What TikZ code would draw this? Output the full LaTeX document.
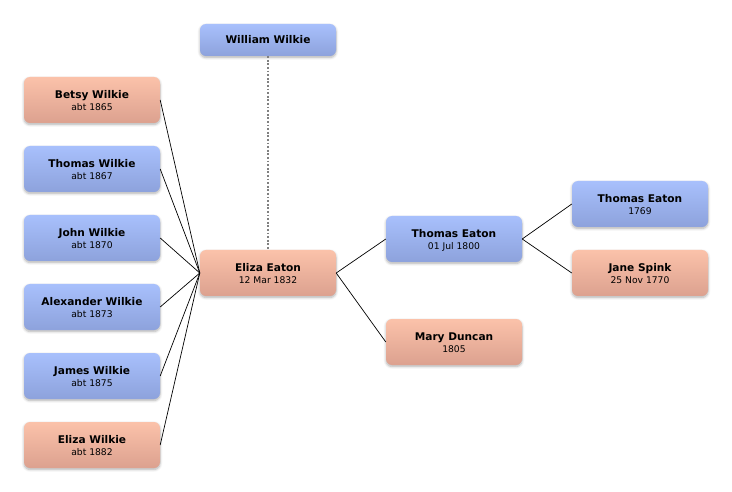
\documentclass[tikz,border=0pt]{standalone}
\usepackage{fontspec}
\setmainfont{DejaVu Sans}
\usetikzlibrary{shadows.blur}
\begin{document}
\begin{tikzpicture}[x=1pt,y=-1pt,
  person/.style={rounded corners=6pt, minimum width=136pt, minimum height=46pt,
    inner sep=0pt, align=center, blur shadow={shadow blur steps=6, shadow xshift=0pt, shadow yshift=-1.5pt, shadow opacity=30, shadow blur radius=2.5pt}},
  male/.style={person, top color=maletop, bottom color=malebot},
  female/.style={person, top color=femtop, bottom color=fembot},
  link/.style={draw=black, line width=0.7pt},
  dotlink/.style={draw=black!50, line width=1.5pt, dash pattern=on 1.8pt off 1.8pt}]
\definecolor{maletop}{HTML}{A8C0FC}
\definecolor{malebot}{HTML}{8DA2DC}
\definecolor{femtop}{HTML}{FBC2AA}
\definecolor{fembot}{HTML}{DCA18F}
\newcommand{\pname}[2]{\raisebox{-2.5pt}[\height][\depth]{\begin{tabular}{@{}c@{}}{\fontsize{10.6}{13}\selectfont\bfseries #1}\\[0pt]{\fontsize{9.2}{11}\selectfont #2}\end{tabular}}}
\useasboundingbox (0,0) rectangle (732,492);
\node[male, minimum height=32pt] (ww) at (268,40) {\fontsize{10.6}{13}\selectfont\bfseries William Wilkie};
\node[female] (bw) at (92,100) {\pname{Betsy Wilkie}{abt 1865}};
\node[male] (tw) at (92,169) {\pname{Thomas Wilkie}{abt 1867}};
\node[male] (jw) at (92,238) {\pname{John Wilkie}{abt 1870}};
\node[male] (aw) at (92,307) {\pname{Alexander Wilkie}{abt 1873}};
\node[male] (jaw) at (92,376) {\pname{James Wilkie}{abt 1875}};
\node[female] (ew) at (92,445) {\pname{Eliza Wilkie}{abt 1882}};
\node[female] (ee) at (268,273) {\pname{Eliza Eaton}{12 Mar 1832}};
\node[male] (te) at (454,239) {\pname{Thomas Eaton}{01 Jul 1800}};
\node[female] (md) at (454,342) {\pname{Mary Duncan}{1805}};
\node[male] (te2) at (640,204) {\pname{Thomas Eaton}{1769}};
\node[female] (js) at (640,273) {\pname{Jane Spink}{25 Nov 1770}};
\draw[dotlink] (ww.south) -- (ee.north);
\foreach \c in {bw,tw,jw,aw,jaw,ew} \draw[link] (\c.east) -- (ee.west);
\draw[link] (ee.east) -- (te.west);
\draw[link] (ee.east) -- (md.west);
\draw[link] (te.east) -- (te2.west);
\draw[link] (te.east) -- (js.west);
\end{tikzpicture}
\end{document}
